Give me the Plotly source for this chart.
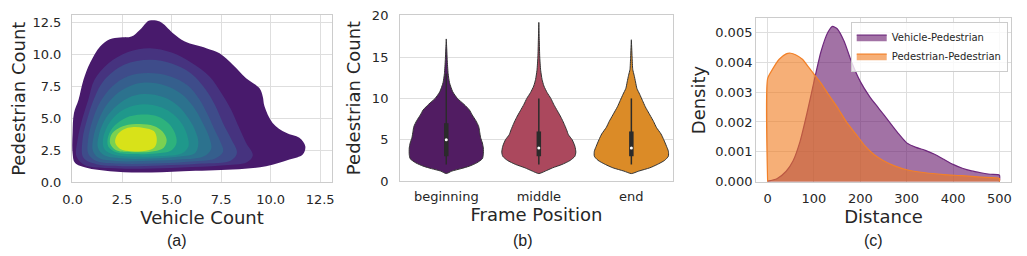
import plotly.graph_objects as go

# ---------------- (a) bivariate KDE: filled contour level outlines (data coords) ----------------
kde_levels_x = [
    [3.89, 4.40, 5.07, 5.67, 6.75, 7.42, 8.09, 8.76, 9.43, 9.60, 9.69, 10.10, 10.78, 11.45, 11.75, 11.62, 10.95, 9.77, 8.09, 5.58, 3.39, 1.88, 0.70, 0.12, 0.00, 0.00, 0.07, 0.30, 0.55, 0.88, 1.39, 1.88, 2.39, 2.97, 3.39, 3.72],
    [3.90, 5.00, 6.00, 6.90, 7.50, 8.00, 8.40, 8.75, 9.10, 8.80, 7.50, 5.50, 3.50, 1.80, 0.60, 0.20, 0.25, 0.50, 0.80, 1.10, 1.80, 2.80],
    [3.90, 5.00, 6.00, 6.70, 7.20, 7.60, 8.00, 8.30, 8.00, 6.50, 4.50, 2.50, 1.20, 0.55, 0.50, 0.75, 1.10, 1.60, 2.60],
    [3.80, 4.90, 5.80, 6.40, 6.85, 7.20, 7.45, 7.60, 7.20, 5.80, 4.00, 2.30, 1.20, 0.80, 0.78, 1.00, 1.40, 2.00, 2.80],
    [3.70, 4.70, 5.50, 6.10, 6.55, 6.90, 7.00, 6.60, 5.20, 3.60, 2.20, 1.30, 1.02, 1.04, 1.30, 1.70, 2.30, 3.00],
    [3.60, 4.60, 5.30, 5.85, 6.20, 6.35, 6.20, 5.40, 4.00, 2.60, 1.60, 1.28, 1.30, 1.60, 2.10, 2.80],
    [3.60, 4.50, 5.10, 5.55, 5.80, 5.85, 5.50, 4.50, 3.20, 2.10, 1.60, 1.54, 1.80, 2.30, 2.90],
    [3.50, 4.30, 4.85, 5.15, 5.25, 5.00, 4.20, 3.10, 2.20, 1.80, 1.80, 2.10, 2.70],
    [3.40, 4.10, 4.55, 4.75, 4.60, 4.00, 3.00, 2.20, 1.90, 1.95, 2.30, 2.80],
    [3.00, 3.60, 4.10, 4.25, 4.15, 3.70, 3.00, 2.40, 2.15, 2.25, 2.60],
]
kde_levels_y = [
    [12.66, 12.58, 11.67, 11.02, 10.50, 10.10, 9.20, 8.15, 7.37, 6.72, 5.94, 4.64, 3.86, 3.47, 2.81, 2.16, 1.77, 1.25, 0.99, 0.86, 0.75, 0.86, 1.12, 1.51, 2.29, 3.86, 5.42, 6.46, 8.02, 9.33, 10.63, 11.20, 11.33, 11.41, 11.93, 12.50],
    [10.50, 10.15, 9.35, 8.30, 7.00, 5.70, 4.30, 3.10, 2.10, 1.55, 1.30, 1.15, 1.05, 1.10, 1.35, 2.00, 3.30, 5.00, 6.50, 8.00, 9.30, 10.20],
    [9.60, 9.30, 8.50, 7.30, 6.00, 4.60, 3.40, 2.30, 1.70, 1.45, 1.30, 1.25, 1.40, 1.90, 3.30, 5.00, 6.60, 8.00, 9.20],
    [8.55, 8.30, 7.60, 6.50, 5.20, 4.00, 3.20, 2.40, 1.85, 1.60, 1.45, 1.45, 1.65, 2.20, 3.30, 4.80, 6.30, 7.50, 8.30],
    [7.80, 7.55, 6.90, 5.90, 4.70, 3.50, 2.60, 2.00, 1.75, 1.65, 1.65, 1.90, 2.50, 3.40, 4.80, 6.00, 7.00, 7.60],
    [6.90, 6.65, 6.00, 5.00, 4.00, 3.10, 2.30, 2.00, 1.85, 1.85, 2.10, 2.70, 3.50, 4.80, 5.80, 6.60],
    [6.10, 5.85, 5.30, 4.50, 3.60, 2.80, 2.25, 2.05, 2.00, 2.15, 2.60, 3.40, 4.50, 5.40, 5.90],
    [5.30, 5.15, 4.60, 3.90, 3.10, 2.50, 2.25, 2.20, 2.35, 2.80, 3.60, 4.40, 5.05],
    [4.55, 4.40, 3.95, 3.30, 2.70, 2.40, 2.35, 2.50, 3.00, 3.70, 4.20, 4.50],
    [4.30, 4.25, 4.00, 3.40, 2.75, 2.45, 2.42, 2.60, 3.10, 3.70, 4.15],
]
kde_ticks = [0.0, 2.5, 5.0, 7.5, 10.0, 12.5]

# ---------------- (b) violin profiles (y value, half-width in category units) ----------------
frame_positions = ["beginning", "middle", "end"]
violin_y = [
    [0.9, 1.2, 1.5, 1.8, 2.2, 2.7, 3.2, 4.0, 4.6, 5.3, 6.0, 6.6, 7.3, 8.0, 8.6, 9.3, 10.0, 10.8, 11.9, 13.0, 14.7, 16.0, 17.2],
    [0.9, 1.2, 1.6, 2.0, 2.5, 3.0, 3.5, 4.2, 5.0, 5.6, 6.2, 7.0, 7.7, 8.5, 9.3, 10.0, 10.7, 11.5, 12.3, 13.4, 15.0, 17.0, 19.2],
    [0.9, 1.2, 1.6, 2.0, 2.5, 3.0, 3.6, 4.2, 5.0, 5.7, 6.5, 7.2, 8.0, 9.0, 9.75, 10.5, 11.2, 12.0, 12.8, 13.5, 15.0, 17.1],
]
violin_halfwidth = [
    [0.0, 0.06, 0.16, 0.25, 0.33, 0.39, 0.40, 0.40, 0.39, 0.37, 0.36, 0.35, 0.32, 0.28, 0.25, 0.19, 0.12, 0.07, 0.035, 0.02, 0.01, 0.005, 0.0],
    [0.0, 0.07, 0.15, 0.25, 0.34, 0.39, 0.40, 0.39, 0.36, 0.32, 0.30, 0.27, 0.24, 0.20, 0.16, 0.13, 0.09, 0.055, 0.035, 0.02, 0.01, 0.005, 0.0],
    [0.0, 0.08, 0.20, 0.28, 0.36, 0.40, 0.40, 0.38, 0.35, 0.32, 0.27, 0.24, 0.20, 0.15, 0.12, 0.09, 0.06, 0.045, 0.03, 0.015, 0.008, 0.0],
]
box_q1 = [3, 3, 3]
box_median = [5, 4, 4]
box_q3 = [7, 6, 6]
whisker_low = [2, 2, 2]
whisker_high = [13, 10, 10]

# ---------------- (c) distance densities ----------------
vp_distance = [0, 20, 40, 55, 70, 85, 100, 115, 130, 140, 150, 165, 180, 200, 220, 240, 260, 280, 300, 320, 340, 360, 380, 400, 420, 440, 460, 480, 500]
vp_density = [0.02e-3, 0.1e-3, 0.35e-3, 0.7e-3, 1.35e-3, 2.3e-3, 3.35e-3, 4.35e-3, 5.0e-3, 5.2e-3, 5.12e-3, 4.7e-3, 4.05e-3, 3.35e-3, 2.85e-3, 2.45e-3, 2.05e-3, 1.65e-3, 1.3e-3, 1.15e-3, 1.05e-3, 0.92e-3, 0.75e-3, 0.58e-3, 0.45e-3, 0.36e-3, 0.3e-3, 0.25e-3, 0.22e-3]
pp_distance = [0, 10, 25, 40, 50, 60, 75, 90, 100, 115, 130, 150, 170, 190, 210, 230, 250, 275, 300, 340, 380, 420, 460, 500]
pp_density = [3.45e-3, 3.75e-3, 4.1e-3, 4.28e-3, 4.3e-3, 4.25e-3, 4.1e-3, 3.8e-3, 3.6e-3, 3.3e-3, 2.95e-3, 2.5e-3, 2.0e-3, 1.6e-3, 1.2e-3, 0.9e-3, 0.7e-3, 0.52e-3, 0.4e-3, 0.3e-3, 0.24e-3, 0.2e-3, 0.15e-3, 0.11e-3]
density_series = ["Vehicle-Pedestrian", "Pedestrian-Pedestrian"]

# ---------------- styles ----------------
kde_colors = ["#481a6c", "#46337f", "#3e4c8a", "#355f8d", "#2c728e", "#24868e", "#1f988b", "#2db27d", "#7ad151", "#d8e219"]
violin_colors = ["#511c62", "#ab485d", "#db8b27"]
TXT = "#262626"
GRID = "#dedede"
SPINE = "#cccccc"
FONT = "DejaVu Sans"

fig = go.Figure()

# (a)
for bx, by, col in zip(kde_levels_x, kde_levels_y, kde_colors):
    fig.add_trace(go.Scatter(x=bx + bx[:1], y=by + by[:1], mode="lines", fill="toself",
                             fillcolor=col, line=dict(color=col, width=0, shape="spline", smoothing=1.0),
                             hoverinfo="skip", showlegend=False, xaxis="x", yaxis="y"))

# (b)
for i, (vy, vw, col) in enumerate(zip(violin_y, violin_halfwidth, violin_colors)):
    xs = [i + w for w in vw] + [i - w for w in reversed(vw)]
    ys = list(vy) + list(reversed(vy))
    fig.add_trace(go.Scatter(x=xs, y=ys, mode="lines", fill="toself", fillcolor=col,
                             line=dict(color="#333333", width=1, shape="spline", smoothing=0.6),
                             hoverinfo="skip", showlegend=False, xaxis="x2", yaxis="y2"))
    fig.add_trace(go.Scatter(x=[i, i], y=[whisker_low[i], whisker_high[i]], mode="lines",
                             line=dict(color="#2b2b2b", width=1.5), hoverinfo="skip",
                             showlegend=False, xaxis="x2", yaxis="y2"))
    fig.add_trace(go.Scatter(x=[i, i], y=[box_q1[i], box_q3[i]], mode="lines",
                             line=dict(color="#2b2b2b", width=4.5), hoverinfo="skip",
                             showlegend=False, xaxis="x2", yaxis="y2"))
    fig.add_trace(go.Scatter(x=[i], y=[box_median[i]], mode="markers",
                             marker=dict(color="white", size=3, symbol="circle"), hoverinfo="skip",
                             showlegend=False, xaxis="x2", yaxis="y2"))

# (c)
fig.add_trace(go.Scatter(x=vp_distance + [500], y=vp_density + [0], mode="lines", fill="tozeroy",
                         fillcolor="rgba(100,20,105,0.6)", line=dict(color="rgb(110,40,125)", width=1.2, shape="spline", smoothing=0.6),
                         name=density_series[0], xaxis="x3", yaxis="y3"))
fig.add_trace(go.Scatter(x=[0] + pp_distance + [500], y=[0] + pp_density + [0], mode="lines", fill="tozeroy",
                         fillcolor="rgba(240,122,28,0.6)", line=dict(color="rgb(242,128,40)", width=1.2, shape="spline", smoothing=0.6),
                         name=density_series[1], xaxis="x3", yaxis="y3"))

ax_common = dict(showgrid=True, gridcolor=GRID, gridwidth=1, zeroline=False, showline=True,
                 linecolor=SPINE, linewidth=1, mirror=True, ticks="", automargin=False,
                 tickfont=dict(family=FONT, size=13, color=TXT),
                 title_font=dict(family=FONT, size=18, color=TXT))

# The page body has an 8px margin, so the figure is 8px smaller and positioned accordingly.
W, H = 1019, 248

fig.update_layout(
    width=W, height=H, margin=dict(l=0, r=0, t=0, b=0),
    paper_bgcolor="white", plot_bgcolor="white",
    font=dict(family=FONT, color=TXT),
    xaxis=dict(ax_common, domain=[0.0628, 0.3180], range=[-0.03, 13.1], tickvals=kde_ticks,
               ticktext=[f"{v:.1f}" for v in kde_ticks], title=dict(text="Vehicle Count", standoff=2),
               ticklabelstandoff=5, anchor="y"),
    yaxis=dict(ax_common, domain=[0.2964, 0.9718], range=[-0.03, 13.1], tickvals=kde_ticks,
               ticktext=[f"{v:.1f}" for v in kde_ticks], title=dict(text="Pedestrian Count", standoff=4),
               ticklabelstandoff=7, anchor="x"),
    xaxis2=dict(ax_common, domain=[0.3847, 0.6526], range=[-0.5, 2.45], tickvals=[0, 1, 2],
                ticktext=frame_positions, showgrid=False, title=dict(text="Frame Position", standoff=2),
                ticklabelstandoff=3, anchor="y2"),
    yaxis2=dict(ax_common, domain=[0.3024, 0.9718], range=[0, 20.1], tickvals=[0, 5, 10, 15, 20],
                title=dict(text="Pedestrian Count", standoff=6), ticklabelstandoff=8, anchor="x2"),
    xaxis3=dict(ax_common, domain=[0.7341, 0.9843], range=[-25, 525], tickvals=[0, 100, 200, 300, 400, 500],
                title=dict(text="Distance", standoff=2), ticklabelstandoff=5, anchor="y3"),
    yaxis3=dict(ax_common, domain=[0.2996, 0.9585], range=[0, 0.00547],
                tickvals=[0, 0.001, 0.002, 0.003, 0.004, 0.005],
                ticktext=["0.000", "0.001", "0.002", "0.003", "0.004", "0.005"],
                title=dict(text="Density", standoff=4), ticklabelstandoff=0, anchor="x3"),
    legend=dict(x=0.827, y=0.945, xanchor="left", yanchor="top", bgcolor="rgba(255,255,255,0.8)",
                bordercolor=SPINE, borderwidth=1, font=dict(family=FONT, size=10, color=TXT),
                tracegroupgap=0, itemwidth=30),
)

for lbl, xc in [("(a)", 169 / W), ("(b)", 515 / W), ("(c)", 865 / W)]:
    fig.add_annotation(text=lbl, x=xc, y=1 - 232 / H, xref="paper", yref="paper",
                       showarrow=False, font=dict(family="Liberation Sans", size=16, color="#222222"),
                       xanchor="center", yanchor="middle")

fig.write_html("out.html")
